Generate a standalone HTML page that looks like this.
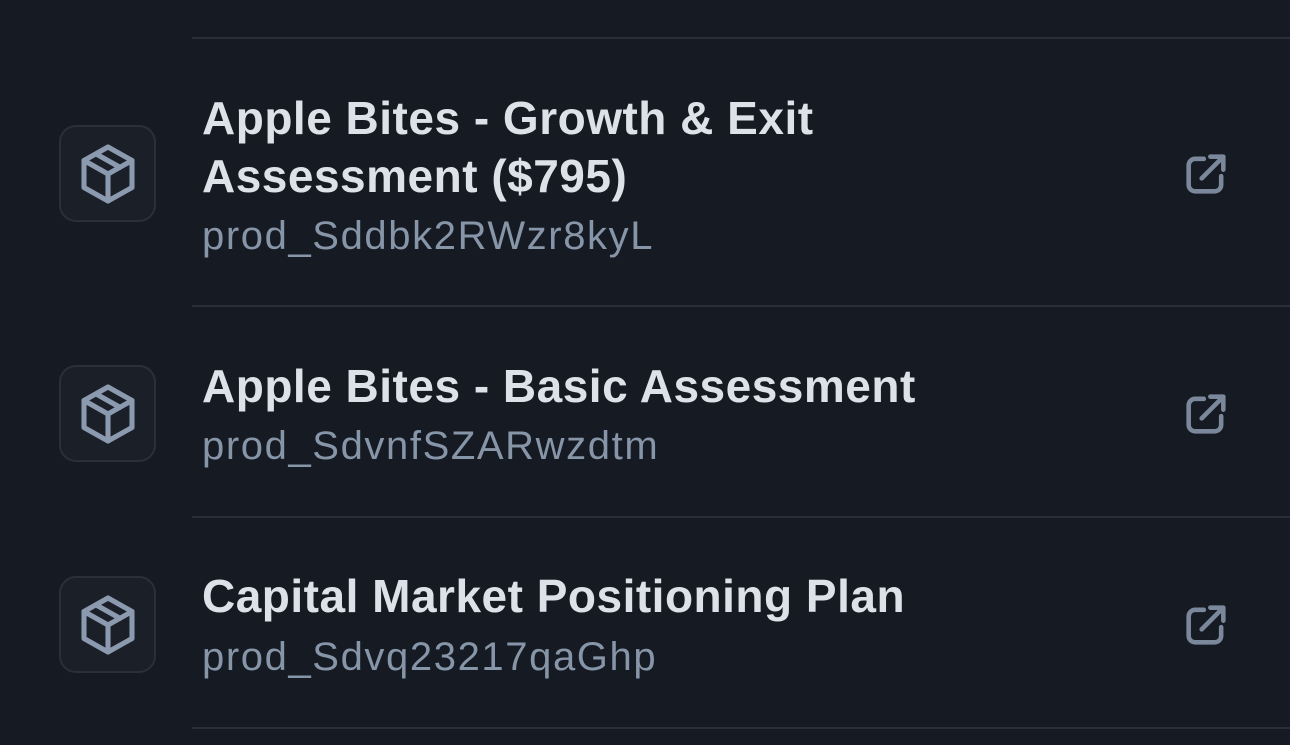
<!DOCTYPE html>
<html><head><meta charset="utf-8"><style>
html,body{margin:0;padding:0;background:#161a22;width:1290px;height:745px;overflow:hidden;font-family:"Liberation Sans",sans-serif}
.div{position:absolute;left:192px;right:0;height:2px;background:#2a2e37}
.box{position:absolute;left:59px;width:97px;height:97px;border:2px solid #2b2f38;border-radius:17px;background:#1b1f27;box-sizing:border-box}
.box svg{position:absolute;left:11px;top:11px}
.t{position:absolute;left:202px;font-size:46px;letter-spacing:0.5px;font-weight:bold;color:#dde1e8;line-height:58px;white-space:nowrap}
.s{position:absolute;left:202px;font-size:40px;letter-spacing:1.6px;color:#8795a8;line-height:58px;white-space:nowrap}
.ext{position:absolute;left:1180px}
</style></head><body>
<div class="div" style="top:37px"></div>

<div>
<div class="box" style="top:125px"><svg width="72" height="72" viewBox="0 0 24 24" fill="none" stroke="#8c9ab0" stroke-width="1.7" stroke-linejoin="round" stroke-linecap="round"><path d="M12 3l8 4.5v9L12 21l-8-4.5v-9z"/><path d="M4 7.5l8 4.5 8-4.5M12 12v9M8 5.3l8 4.5"/></svg></div>
<div class="t" style="top:89px">Apple Bites - Growth &amp; Exit<br>Assessment ($795)</div>
<div class="s" style="top:207px">prod_Sddbk2RWzr8kyL</div>
<svg class="ext" style="top:148px" width="52" height="52" viewBox="0 0 24 24" fill="none" stroke="#7b889b" stroke-width="2.1" stroke-linecap="round" stroke-linejoin="round"><path d="M11 5H7a3 3 0 0 0-3 3v9a3 3 0 0 0 3 3h9a3 3 0 0 0 3-3v-4"/><path d="M10 14L20 4M14 4h6v6"/></svg>
</div>
<div class="div" style="top:305px"></div>

<div>
<div class="box" style="top:365px"><svg width="72" height="72" viewBox="0 0 24 24" fill="none" stroke="#8c9ab0" stroke-width="1.7" stroke-linejoin="round" stroke-linecap="round"><path d="M12 3l8 4.5v9L12 21l-8-4.5v-9z"/><path d="M4 7.5l8 4.5 8-4.5M12 12v9M8 5.3l8 4.5"/></svg></div>
<div class="t" style="top:357px">Apple Bites - Basic Assessment</div>
<div class="s" style="top:417px">prod_SdvnfSZARwzdtm</div>
<svg class="ext" style="top:388px" width="52" height="52" viewBox="0 0 24 24" fill="none" stroke="#7b889b" stroke-width="2.1" stroke-linecap="round" stroke-linejoin="round"><path d="M11 5H7a3 3 0 0 0-3 3v9a3 3 0 0 0 3 3h9a3 3 0 0 0 3-3v-4"/><path d="M10 14L20 4M14 4h6v6"/></svg>
</div>
<div class="div" style="top:516px"></div>

<div>
<div class="box" style="top:576px"><svg width="72" height="72" viewBox="0 0 24 24" fill="none" stroke="#8c9ab0" stroke-width="1.7" stroke-linejoin="round" stroke-linecap="round"><path d="M12 3l8 4.5v9L12 21l-8-4.5v-9z"/><path d="M4 7.5l8 4.5 8-4.5M12 12v9M8 5.3l8 4.5"/></svg></div>
<div class="t" style="top:567px">Capital Market Positioning Plan</div>
<div class="s" style="top:628px">prod_Sdvq23217qaGhp</div>
<svg class="ext" style="top:599px" width="52" height="52" viewBox="0 0 24 24" fill="none" stroke="#7b889b" stroke-width="2.1" stroke-linecap="round" stroke-linejoin="round"><path d="M11 5H7a3 3 0 0 0-3 3v9a3 3 0 0 0 3 3h9a3 3 0 0 0 3-3v-4"/><path d="M10 14L20 4M14 4h6v6"/></svg>
</div>
<div class="div" style="top:727px"></div>
</body></html>
